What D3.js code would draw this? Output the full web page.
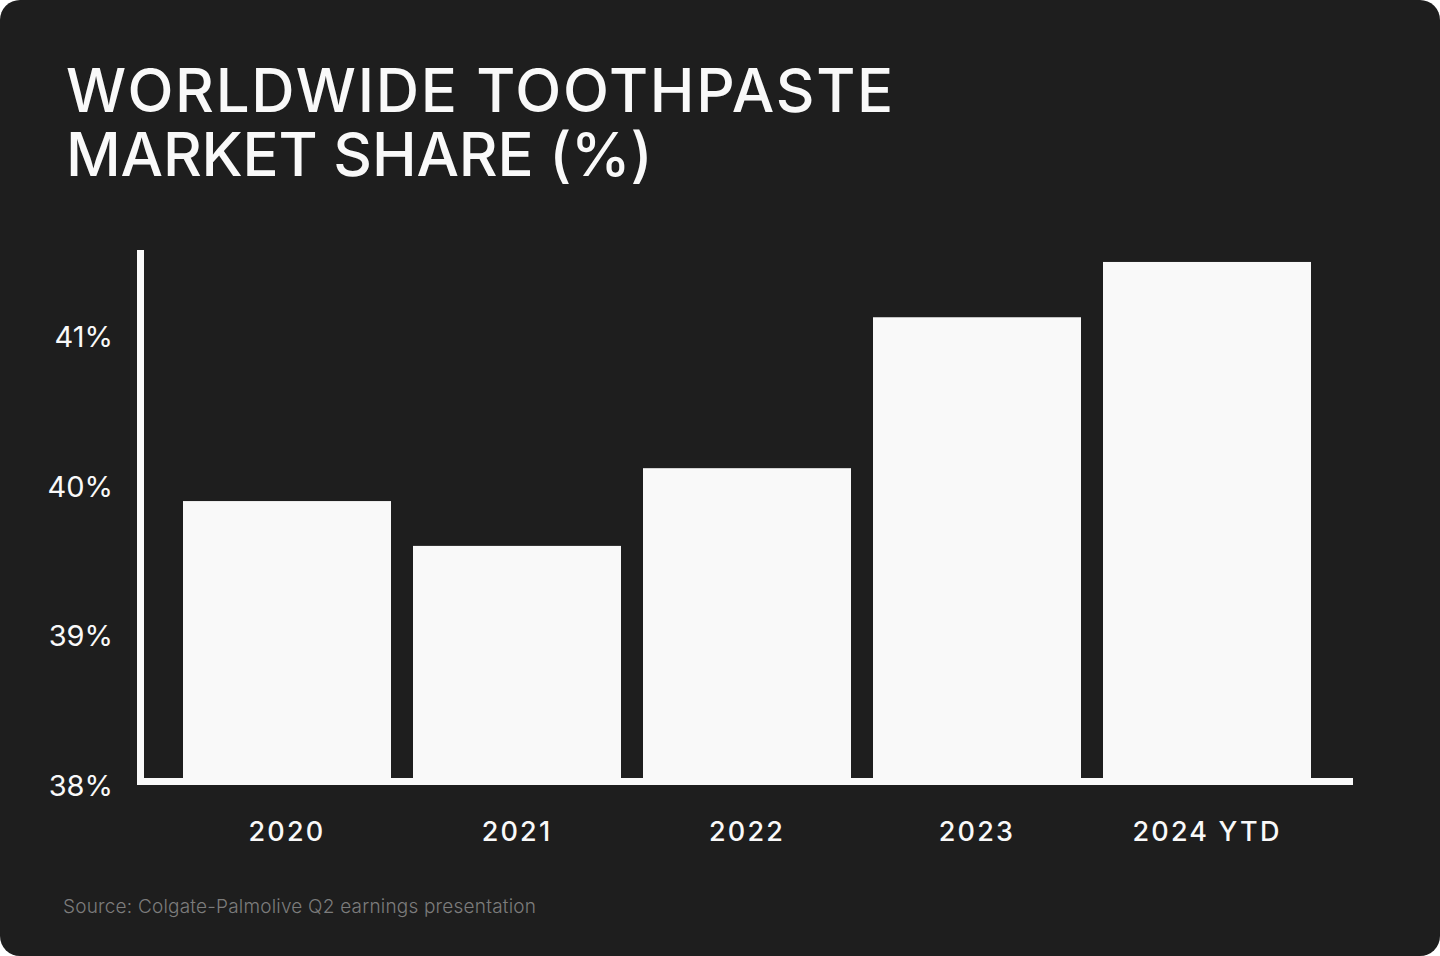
<!DOCTYPE html>
<html>
<head>
<meta charset="utf-8">
<script src="https://cdn.jsdelivr.net/npm/d3@7"></script>
<style>
  html, body { margin: 0; padding: 0; background: #ffffff; }
  svg { display: block; }
  text { font-family: Inter, "Noto Sans", sans-serif; }
</style>
</head>
<body>
<svg id="chart" width="1440" height="956"></svg>
<script>
const titleLines = ["WORLDWIDE TOOTHPASTE", "MARKET SHARE (%)"];
const categories = ["2020", "2021", "2022", "2023", "2024 YTD"];
const shares = [39.9, 39.6, 40.12, 41.13, 41.5];
const yTicks = [38, 39, 40, 41];
const yTickLabels = ["38%", "39%", "40%", "41%"];
const sourceText = "Source: Colgate-Palmolive Q2 earnings presentation";

const svg = d3.select("#chart");
const W = 1440, H = 956;
const fg = "#f9f9f9";

svg.append("rect").attr("x", 0).attr("y", 0).attr("width", W).attr("height", H)
  .attr("rx", 20).attr("ry", 20).attr("fill", "#1e1e1e");

// title
svg.append("text")
  .attr("x", 66).attr("y", 112)
  .attr("fill", fg).attr("font-size", 60).attr("font-weight", 500)
  .selectAll("tspan").data(titleLines).join("tspan")
  .attr("x", 66).attr("dy", (d, i) => i === 0 ? 0 : 64)
  .attr("letter-spacing", (d, i) => i === 0 ? 1.7 : -0.2)
  .text(d => d);

const x = d3.scaleBand().domain(categories).range([172, 1322])
  .paddingInner(22 / 230).paddingOuter(11 / 230);
const y = d3.scaleLinear().domain([38, 41.58]).range([785, 250]);

// bars
svg.append("g").selectAll("rect").data(shares).join("rect")
  .attr("x", (d, i) => x(categories[i]))
  .attr("width", x.bandwidth())
  .attr("y", d => y(d))
  .attr("height", d => y(38) - y(d))
  .attr("fill", fg);

// y axis line
svg.append("rect").attr("x", 137).attr("y", y.range()[1])
  .attr("width", 7).attr("height", y(38) - y.range()[1]).attr("fill", fg);
// baseline
svg.append("rect").attr("x", 137).attr("y", y(38) - 7)
  .attr("width", 1353 - 137).attr("height", 7).attr("fill", fg);

// y ticks
const yAxis = d3.axisLeft(y).tickValues(yTicks)
  .tickFormat((d, i) => yTickLabels[i]).tickSize(0).tickPadding(0);
const gy = svg.append("g").attr("transform", "translate(113,0)").call(yAxis);
gy.select(".domain").remove();
gy.selectAll("text").attr("fill", fg).attr("font-size", 29).attr("font-weight", 400)
  .attr("font-family", "Inter, sans-serif").attr("dy", "0.35em");

// x labels
const xAxis = d3.axisBottom(x).tickSize(0).tickPadding(0);
const gx = svg.append("g").attr("transform", "translate(0,832)").call(xAxis);
gx.select(".domain").remove();
gx.selectAll("text").attr("fill", fg).attr("font-size", 27).attr("font-weight", 500)
  .attr("font-family", "Inter, sans-serif").attr("dy", "0.35em").attr("letter-spacing", 2.2);

// source
svg.append("text").attr("x", 63).attr("y", 913)
  .attr("fill", "#7c7c7c").attr("font-size", 19).attr("font-weight", 300)
  .attr("letter-spacing", 0.2)
  .text(sourceText);
</script>
</body>
</html>
